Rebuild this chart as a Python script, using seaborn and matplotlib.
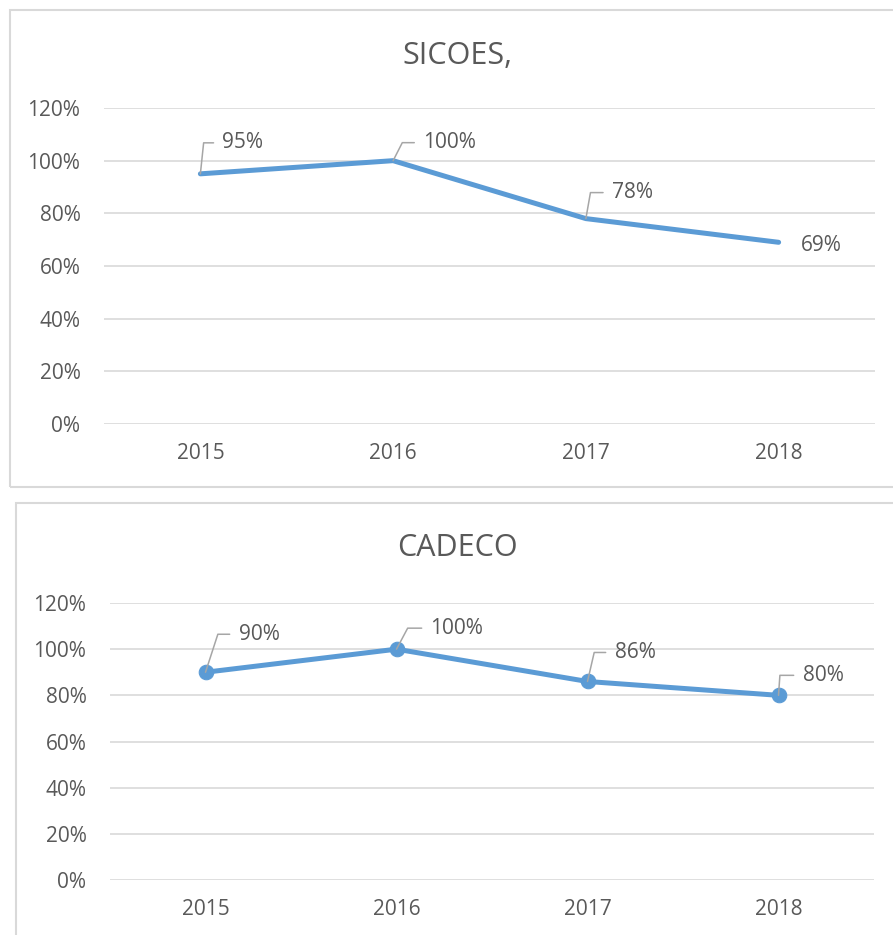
import matplotlib
matplotlib.use("Agg")
import matplotlib.pyplot as plt
import seaborn as sns
import pandas as pd
from matplotlib.patches import Rectangle

years = ["2015", "2016", "2017", "2018"]
sicoes = [0.95, 1.00, 0.78, 0.69]
cadeco = [0.90, 1.00, 0.86, 0.80]
yticks = [0, 0.2, 0.4, 0.6, 0.8, 1.0, 1.2]
ytick_labels = ["0%", "20%", "40%", "60%", "80%", "100%", "120%"]

sns.set_theme(style="white")
plt.rcParams["font.family"] = ["Open Sans", "DejaVu Sans"]

TXT = "#595959"
LINE = "#5B9BD5"
GRID = "#D9D9D9"
LEAD = "#A6A6A6"

fig = plt.figure(figsize=(8.93, 9.35), dpi=100)
W, H = 893, 935

def fx(px):
    return px / W

def fy(py):
    return 1 - py / H

# panel borders
fig.patches.append(Rectangle((fx(10), fy(487)), fx(900) - fx(10), fy(10) - fy(487),
                             transform=fig.transFigure, fill=False, edgecolor=GRID, lw=1.5))
fig.patches.append(Rectangle((fx(16), fy(945)), fx(900) - fx(16), fy(503) - fy(945),
                             transform=fig.transFigure, fill=False, edgecolor=GRID, lw=1.5))

ax1 = fig.add_axes([fx(104), fy(424), fx(875) - fx(104), fy(108) - fy(424)])
ax2 = fig.add_axes([fx(110), fy(880), fx(874) - fx(110), fy(603) - fy(880)])

def draw(ax, values, title, markers, label_offsets, title_y):
    df = pd.DataFrame({"year": years, "value": values})
    sns.lineplot(data=df, x="year", y="value", ax=ax, color=LINE, lw=3.6,
                 marker="o" if markers else None, markersize=10.5 if markers else 0,
                 markeredgecolor=LINE, solid_capstyle="round", sort=False)
    ax.set_xlim(-0.5, 3.5)
    ax.set_ylim(0, 1.2)
    ax.set_yticks(yticks)
    ax.set_yticklabels(ytick_labels)
    ax.set_xlabel("")
    ax.set_ylabel("")
    for s in ax.spines.values():
        s.set_visible(False)
    ax.grid(axis="y", color=GRID, lw=1.2)
    ax.set_axisbelow(True)
    ax.tick_params(axis="both", length=0, labelsize=15, colors=TXT)
    ax.tick_params(axis="y", pad=17)
    ax.tick_params(axis="x", pad=14)
    fig.text(fx(457), fy(title_y), title, ha="center", va="center", fontsize=22, color=TXT)
    for i, v in enumerate(values):
        dx, dy, ang = label_offsets[i]
        label = f"{round(v*100):.0f}%"
        if ang is not None:
            ax.annotate(label, xy=(i, v), xytext=(dx, dy),
                        textcoords="offset pixels", ha="left", va="center",
                        fontsize=15, color=TXT,
                        arrowprops=dict(arrowstyle="-", color=LEAD, lw=1.1,
                                        shrinkA=4, shrinkB=0,
                                        connectionstyle=f"angle,angleA=0,angleB={ang},rad=0",
                                        relpos=(0, 0.5)))
        else:
            ax.annotate(label, xy=(i, v), xytext=(dx, dy),
                        textcoords="offset pixels", ha="left", va="center",
                        fontsize=15, color=TXT)

draw(ax1, sicoes, "SICOES,", False,
     [(22, 31, 84), (30, 18, 63), (26, 26, 80), (22, -3, None)], 56)
draw(ax2, cadeco, "CADECO", True,
     [(33, 38, 72), (34, 21, 62), (27, 29, 77), (24, 20, 86)], 548)

fig.savefig("out.png", dpi=100, facecolor="white")
